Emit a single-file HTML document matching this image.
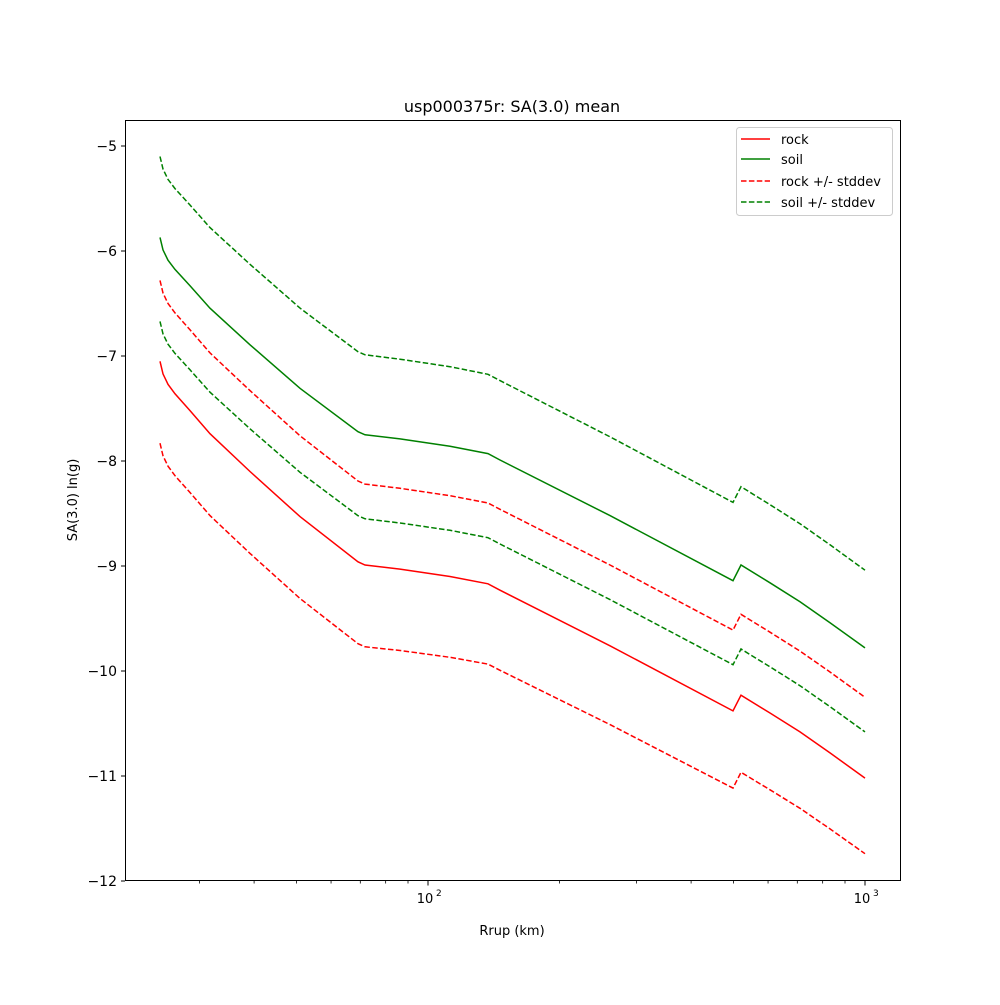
<!DOCTYPE html>
<html><head><style>body{margin:0;background:#fff}svg text{font-family:"DejaVu Sans","Liberation Sans",sans-serif;fill:#000}</style></head>
<body>
<svg id="s" width="1000" height="1000" xmlns="http://www.w3.org/2000/svg">
<rect x="0" y="0" width="1000" height="1000" fill="#fff"/>
<g id="curves"></g>
<rect x="125.5" y="120.5" width="775" height="760" fill="none" stroke="#000" stroke-width="1"/>
<g id="ticks" stroke="#000"></g>
<g id="labels" font-size="14"></g>
<text x="512" y="112" text-anchor="middle" font-size="16">usp000375r: SA(3.0) mean</text>
<text x="512" y="935" text-anchor="middle" font-size="13">Rrup (km)</text>
<text transform="translate(77,500) rotate(-90)" text-anchor="middle" font-size="13">SA(3.0) ln(g)</text>
<rect x="736.5" y="127.5" width="156" height="88" rx="3" fill="#fff" stroke="#ccc"/>
<line x1="741" y1="139" x2="770" y2="139" stroke="red" stroke-width="1.5"/>
<line x1="741" y1="159" x2="770" y2="159" stroke="green" stroke-width="1.5"/>
<line x1="741" y1="181" x2="770" y2="181" stroke="red" stroke-width="1.5" stroke-dasharray="5.5,2.4"/>
<line x1="741" y1="202" x2="770" y2="202" stroke="green" stroke-width="1.5" stroke-dasharray="5.5,2.4"/>
<text x="781" y="144" font-size="13">rock</text>
<text x="781" y="164" font-size="13">soil</text>
<text x="781" y="186" font-size="13">rock +/- stddev</text>
<text x="781" y="207" font-size="13">soil +/- stddev</text>
</svg>
<script>
var NS="http://www.w3.org/2000/svg";
function el(p,t,a,txt){var e=document.createElementNS(NS,t);for(var k in a)e.setAttribute(k,a[k]);if(txt)e.textContent=txt;p.appendChild(e);return e;}
var Y=function(v){return 146+(-5-v)*105;};
var rock=[[160,-7.05],[163,-7.17],[168,-7.27],[175,-7.36],[190,-7.52],[210,-7.74],[250,-8.1],[300,-8.53],[358,-8.96],[365,-8.99],[400,-9.03],[450,-9.1],[488,-9.17],[500,-9.23],[610,-9.76],[733,-10.38],[741,-10.23],[770,-10.4],[800,-10.58],[830,-10.78],[865,-11.02]];
function path(f){return rock.map(function(p,i){return (i?"L":"M")+p[0]+","+Y(f(p[0],p[1])).toFixed(1);}).join(" ");}
function so(x){return 1.18+0.06*Math.min(1,(x-160)/200);}
var c=document.getElementById("curves");
var defs=[
[function(x,v){return v+so(x)+0.77-0.03*(x-160)/705;},"green",1],
[function(x,v){return v+so(x);},"green",0],
[function(x,v){return v+0.77;},"red",1],
[function(x,v){return v+so(x)-0.8;},"green",1],
[function(x,v){return v;},"red",0],
[function(x,v){return v-0.78+0.06*Math.max(0,(x-358)/507);},"red",1]];
defs.forEach(function(d){var a={d:path(d[0]),fill:"none",stroke:d[1],"stroke-width":1.5};if(d[2])a["stroke-dasharray"]="5.5,2.4";el(c,"path",a);});
var t=document.getElementById("ticks"),l=document.getElementById("labels");
for(var v=-5;v>=-12;v--){var y=Y(v);el(t,"line",{x1:121,x2:125,y1:y,y2:y});el(l,"text",{x:117,y:y+5,"text-anchor":"end"},"\u2212"+(-v));}
function X(r){return 428+437*Math.log10(r/100);}
[30,40,50,60,70,80,90,200,300,400,500,600,700,800,900].forEach(function(r){var x=X(r);el(t,"line",{x1:x,x2:x,y1:881,y2:883.5,"stroke-width":0.8});});
[[100,"2"],[1000,"3"]].forEach(function(p){var x=X(p[0]);el(t,"line",{x1:x,x2:x,y1:881,y2:885.5});el(l,"text",{x:x-3,y:903,"text-anchor":"middle","font-size":13},"10");el(l,"text",{x:x+8,y:896,"font-size":9},p[1]);});
</script>
</body></html>
